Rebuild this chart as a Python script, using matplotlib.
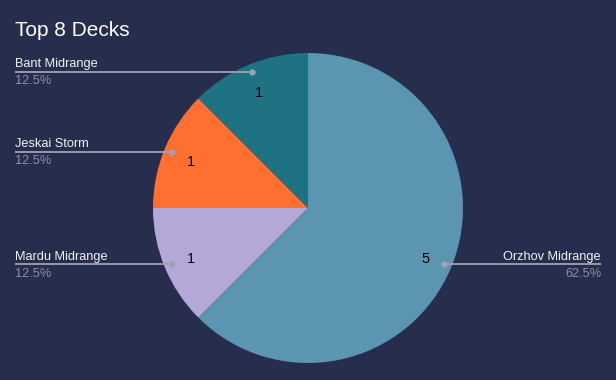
import numpy as np
import matplotlib.pyplot as plt

plt.rcParams['font.family'] = ['Liberation Sans', 'DejaVu Sans']

decks = ['Orzhov Midrange', 'Mardu Midrange', 'Jeskai Storm', 'Bant Midrange']
counts = [5, 1, 1, 1]
colors = ['#5b95b2', '#b4a8d6', '#fe6f31', '#1e7283']

bg = '#262d4d'
W, H = 616, 380
cx, cy, R = 308, H - 208, 155

fig = plt.figure(figsize=(6.16, 3.8), dpi=100, facecolor=bg)
ax = fig.add_axes([0, 0, 1, 1])
ax.set_facecolor(bg)

wedges, _ = ax.pie(counts, colors=colors, startangle=90, counterclock=False,
                   center=(cx, cy), radius=R, frame=True,
                   wedgeprops=dict(linewidth=0))
ax.set_xlim(0, W)
ax.set_ylim(0, H)
ax.axis('off')

total = sum(counts)
for w, name, n in zip(wedges, decks, counts):
    a = np.deg2rad((w.theta1 + w.theta2) / 2)
    ca, sa = np.cos(a), np.sin(a)
    # value inside slice
    ax.text(cx + 0.82 * R * ca, cy + 0.82 * R * sa - 2.5, str(n), ha='center', va='center',
            fontsize=10.5, color='black')
    # leader dot + line
    dx, dy = cx + 0.95 * R * ca, cy + 0.95 * R * sa
    if ca < 0:
        x0, ha = 15, 'left'
    else:
        x0, ha = 601, 'right'
    ax.plot([x0, dx], [dy, dy], color='#9ea2b1', lw=1.3, solid_capstyle='butt')
    ax.plot(dx, dy, 'o', color='#9ea2b1', ms=3.5)
    ax.text(x0, dy + 4.5, name, ha=ha, va='baseline', fontsize=9.2, color='#f2f2f5')
    ax.text(x0, dy - 12.5, '%.1f%%' % (100 * n / total), ha=ha, va='baseline',
            fontsize=9.2, color='#8d92a3')

ax.text(15, H - 36, 'Top 8 Decks', ha='left', va='baseline', fontsize=15, color='white')

fig.savefig('out.png', dpi=100, facecolor=bg)
